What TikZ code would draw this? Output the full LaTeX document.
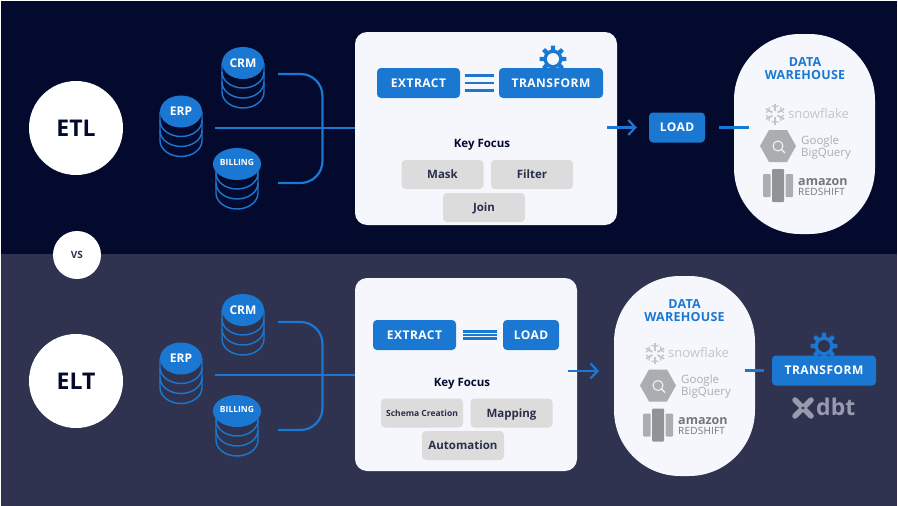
\documentclass[tikz,border=0pt]{standalone}
\usepackage{fontspec}
\setmainfont{Open Sans}
\usetikzlibrary{arrows.meta, positioning, shapes.geometric}

\definecolor{topbg}{HTML}{040A2E}
\definecolor{lowbg}{HTML}{2F3350}
\definecolor{flowblue}{HTML}{1B78D2}
\definecolor{panelbg}{HTML}{F5F7FC}
\definecolor{pillgray}{HTML}{DCDCDC}
\definecolor{pilltext}{HTML}{2A2F4A}
\definecolor{logolight}{HTML}{C3C5CA}
\definecolor{logomid}{HTML}{ABADB1}
\definecolor{logodark}{HTML}{737579}
\definecolor{dbtgray}{HTML}{989BAE}

\tikzset{
	flowline/.style={draw=flowblue, line width=2.2pt},
	flowarrow/.style={flowline, -{Straight Barb[length=7pt, width=15pt, line width=2.2pt]}},
	eqline/.style={draw=flowblue, line width=2.2pt},
	bluebox/.style={fill=flowblue, text=white, rounded corners=4pt, inner sep=0pt,
		minimum height=30pt, text height=8.8pt, text depth=0pt,
		font=\bfseries\fontsize{12}{14}\selectfont\addfontfeature{LetterSpace=4}},
	panel/.style={fill=panelbg, rounded corners=12pt, inner sep=0pt},
	pill/.style={fill=pillgray, text=pilltext, rounded corners=4pt, inner sep=0pt,
		minimum width=82pt, minimum height=29pt, text height=8.5pt, text depth=0pt,
		font=\bfseries\fontsize{11.5}{14}\selectfont},
	keyfocus/.style={text=topbg, text height=8pt, text depth=0pt,
		font=\bfseries\fontsize{11.5}{13}\selectfont},
	bigdot/.style={circle, fill=white, inner sep=0pt, minimum size=94pt, text=topbg,
		font=\bfseries\fontsize{23}{26}\selectfont},
	warehouse/.style={fill=panelbg, rounded corners=66pt, inner sep=0pt,
		minimum width=141pt, minimum height=200pt},
	whtitle/.style={text=flowblue, align=center,
		font=\bfseries\fontsize{12.5}{13}\selectfont\addfontfeature{LetterSpace=2}},
	dbtop/.style={ellipse, fill=flowblue, text=white, inner sep=0pt, minimum width=42pt,
		minimum height=32pt, text height=8.6pt, text depth=0pt,
		font=\bfseries\fontsize{12}{14}\selectfont},
	dbsmall/.style={text height=6pt, text depth=3pt, font=\bfseries\fontsize{8.5}{10}\selectfont},
	logotext/.style={inner sep=0pt},
	pics/dbstack/.style={code={
		\draw[flowblue, line width=1.4pt] (-21,0) -- (-21,29) arc[start angle=180, end angle=360, x radius=21pt, y radius=16pt] -- (21,0);
		\draw[flowblue, line width=1.4pt] (-21,9) arc[start angle=180, end angle=360, x radius=21pt, y radius=16pt];
		\draw[flowblue, line width=1.4pt] (-21,19) arc[start angle=180, end angle=360, x radius=21pt, y radius=16pt];
	}},
	pics/gear/.style={code={
		\fill[flowblue] (0:10pt) \foreach \a in {0,45,...,315} {
			-- (\a-13:9.5pt) -- (\a-9:13.5pt) -- (\a+9:13.5pt) -- (\a+13:9.5pt)} -- cycle;
		\fill[#1] (0,0) circle (6pt);
	}},
	pics/logos/.style={code={
		% snowflake
		\begin{scope}[shift={(-29.5,-20)}]
		\foreach \a in {30,90,...,330} {
			\draw[logolight, line width=1.7pt] (\a:3pt) -- (\a:10.5pt);
			\draw[logolight, line width=1.2pt] (\a:7pt) -- (\a+22:9pt);
			\draw[logolight, line width=1.2pt] (\a:7pt) -- (\a-22:9pt);
		}
		\end{scope}
		\node (-snow) [logotext, text=logolight, anchor=west, font=\fontsize{13}{16}\selectfont] at (-16.5,-20.5) {snowflake};
		% bigquery
		\fill[logomid] (-44.5,12) -- (-35.5,-4) -- (-17.5,-4) -- (-8.5,12) -- (-17.5,28) -- (-35.5,28) -- cycle;
		\draw[panelbg, line width=1pt] (-26.5,12) circle (5pt);
		\draw[panelbg, line width=1.3pt] (-23,15.5) -- (-19.5,19);
		\node (-goog) [logotext, text=logomid, anchor=west, font=\fontsize{11.5}{13}\selectfont] at (-3.5,7.5) {Google};
		\node (-bigq) [logotext, text=logomid, anchor=west, font=\fontsize{11.5}{13}\selectfont] at (-3.5,19.5) {BigQuery};
		% redshift
		\fill[logomid, rounded corners=1pt] (-41.5,40) rectangle (-34,63);
		\fill[logomid!85!black, rounded corners=1pt] (-32.5,35) rectangle (-20.5,68);
		\fill[logomid, rounded corners=1pt] (-19,40) rectangle (-11.5,63);
		\node (-amaz) [logotext, text=logodark, anchor=west, font=\bfseries\fontsize{12.5}{14}\selectfont] at (-6.5,48) {amazon};
		\node (-reds) [logotext, text=logodark, anchor=west, font=\fontsize{10}{11}\selectfont\addfontfeature{LetterSpace=2}] at (-6.5,57.5) {REDSHIFT};
	}}
}

\begin{document}
\begin{tikzpicture}[x=1pt, y=-1pt]
	\useasboundingbox (0,0) rectangle (898,506);

	% Bands
	\fill[topbg] (1,1) rectangle (897,254);
	\fill[lowbg] (1,254) rectangle (897,506);

	% ETL databases
	\pic at (243,63) {dbstack};
	\pic at (181,111.5) {dbstack};
	\pic at (237,164) {dbstack};
	\node (crmA) [dbtop] at (243,63) {CRM};
	\node (erpA) [dbtop] at (181,111.5) {ERP};
	\node (billA) [dbtop, dbsmall] at (237,164) {BILLING};

	% ETL nodes
	\node (etl) [bigdot] at (76,128) {ETL};
	\node (panelA) [panel, minimum width=262pt, minimum height=193pt] at (486,128.5) {};
	\pic at (553,59) {gear=panelbg};
	\node (extractA) [bluebox, minimum width=83pt] at (418.5,83) {EXTRACT};
	\node (transformA) [bluebox, minimum width=104pt] at (551,83) {TRANSFORM};
	\node (focusA) [keyfocus] at (482,143) {Key Focus};
	\node (mask) [pill] at (442.5,174.5) {Mask};
	\node (filter) [pill] at (532,174.5) {Filter};
	\node (join) [pill] at (484,207.5) {Join};
	\node (loadA) [bluebox, minimum width=56pt] at (677,127.5) {LOAD};
	\node (dwA) [warehouse] at (804.5,134) {};
	\node (dwtitleA) [whtitle] at (805,68.5) {DATA\\WAREHOUSE};
	\pic (logoA) at (804.5,134) {logos};

	% ETL connectors
	\coordinate (crmoutA) at (278,74);
	\coordinate (billoutA) at (278,183);
	\coordinate (erpoutA) at (215,128);
	\coordinate (busA) at (322.5,74);
	\coordinate (busB) at (322.5,183);
	\draw[flowline, rounded corners=22pt] (crmoutA) -- (busA) -- (busB) -- (billoutA);
	\draw[flowline] (erpoutA) -- (panelA.west |- erpoutA);
	\draw[flowarrow] ([xshift=-10pt]panelA.east |- loadA) -- ([xshift=-12pt]loadA.west);
	\draw[flowline] ([xshift=14pt]loadA.east) -- ([xshift=44pt]loadA.east);
	\foreach \dy in {-7.5,0,7.5} {
		\draw[eqline] ([xshift=5pt,yshift=\dy pt]extractA.east) -- ([xshift=-5pt,yshift=\dy pt]transformA.west |- extractA.east);
	}

	% VS marker
	\node (vs) [circle, fill=white, inner sep=0pt, minimum size=48pt, text=lowbg,
		font=\bfseries\fontsize{10}{12}\selectfont] at (77,255) {VS};

	% ELT databases
	\pic at (243,310) {dbstack};
	\pic at (181,358.5) {dbstack};
	\pic at (237,411) {dbstack};
	\node (crmB) [dbtop] at (243,310) {CRM};
	\node (erpB) [dbtop] at (181,358.5) {ERP};
	\node (billB) [dbtop, dbsmall] at (237,411) {BILLING};

	% ELT nodes
	\node (elt) [bigdot] at (76,381) {ELT};
	\node (panelB) [panel, minimum width=222pt, minimum height=193pt] at (466,374.5) {};
	\node (extractB) [bluebox, minimum width=83pt] at (414.5,335) {EXTRACT};
	\node (loadB) [bluebox, minimum width=56pt] at (531,335) {LOAD};
	\node (focusB) [keyfocus] at (462,382) {Key Focus};
	\node (schema) [pill, text height=6pt, font=\bfseries\fontsize{8.5}{10}\selectfont] at (422,413) {Schema Creation};
	\node (mapping) [pill] at (511.5,413) {Mapping};
	\node (automation) [pill] at (463,445.5) {Automation};
	\node (dwB) [warehouse] at (684.5,376) {};
	\node (dwtitleB) [whtitle] at (684.5,310.5) {DATA\\WAREHOUSE};
	\pic (logoB) at (684.5,373.5) {logos};
	\pic at (824,346) {gear=lowbg};
	\node (transformB) [bluebox, minimum width=104pt] at (824,370.5) {TRANSFORM};

	% dbt logo
	\draw[dbtgray, line width=5.5pt, line cap=round] (795,400) -- (811,416);
	\draw[dbtgray, line width=5.5pt, line cap=round] (811,400) -- (795,416);
	\fill[lowbg] (803,408) circle (1.6pt);
	\node (dbt) [inner sep=0pt, anchor=west, text=dbtgray, font=\bfseries\fontsize{23}{24}\selectfont] at (816,406.5) {dbt};

	% ELT connectors
	\coordinate (crmoutB) at (278,322);
	\coordinate (billoutB) at (278,430);
	\coordinate (erpoutB) at (215,375);
	\coordinate (busC) at (322.5,322);
	\coordinate (busD) at (322.5,430);
	\draw[flowline, rounded corners=22pt] (crmoutB) -- (busC) -- (busD) -- (billoutB);
	\draw[flowline] (erpoutB) -- (panelB.west |- erpoutB);
	\coordinate (arrowB) at (568,371);
	\coordinate (arrowtipB) at (599,371);
	\draw[flowarrow] (arrowB) -- (arrowtipB);
	\draw[flowline] ([xshift=-27pt]transformB.west) -- ([xshift=-8pt]transformB.west);
	\foreach \dy in {-3.5,0,3.5} {
		\draw[eqline] ([xshift=7pt,yshift=\dy pt]extractB.east) -- ([xshift=-6pt,yshift=\dy pt]loadB.west);
	}
\end{tikzpicture}
\end{document}
